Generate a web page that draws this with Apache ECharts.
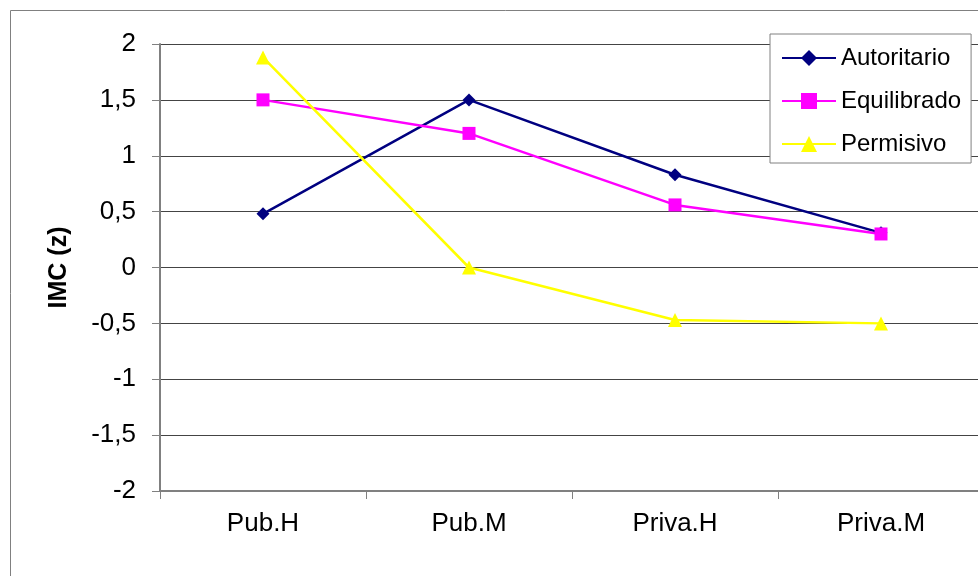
<!DOCTYPE html>
<html lang="es">
<head>
    <meta charset="UTF-8">
    <title>IMC (z)</title>
    <style>
        html, body { margin: 0; padding: 0; overflow: hidden; background: #fff; }
    </style>
</head>
<body>
<div id="main" style="width: 1000px;height:576px;"></div>
<script src="https://cdn.jsdelivr.net/npm/echarts@6/dist/echarts.min.js"></script>
<script>
    // datos
    var categorias = ['Pub.H', 'Pub.M', 'Priva.H', 'Priva.M'];
    var autoritario = [0.48, 1.5, 0.83, 0.31];
    var equilibrado = [1.5, 1.2, 0.56, 0.3];
    var permisivo = [1.88, 0, -0.47, -0.5];

    var myChart = echarts.init(document.getElementById('main'));

    var fuente = 'Liberation Sans, Arial, sans-serif';

    var option = {
        animation: false,
        // marco exterior
        graphic: [{
            type: 'rect',
            shape: { x: 10.5, y: 10.5, width: 1100, height: 700 },
            style: { fill: 'none', stroke: '#808080', lineWidth: 1 },
            z: -1
        }],
        grid: { left: 160, top: 44, width: 824, height: 447 },
        legend: {
            orient: 'vertical',
            left: 770,
            top: 34,
            padding: [12, 10, 7, 11],
            itemWidth: 54,
            itemHeight: 20,
            itemGap: 19,
            backgroundColor: '#fff',
            borderColor: '#808080',
            borderWidth: 1,
            textStyle: { fontFamily: fuente, fontSize: 24, lineHeight: 24, color: '#000', padding: [0, 0, 0, 0] },
            data: ['Autoritario', 'Equilibrado', 'Permisivo']
        },
        xAxis: {
            type: 'category',
            data: categorias,
            boundaryGap: true,
            axisLine: { onZero: false, lineStyle: { color: '#808080', width: 2 } },
            axisTick: { show: true, length: 8, lineStyle: { color: '#808080' } },
            axisLabel: { fontFamily: fuente, fontSize: 26, color: '#000', margin: 20 }
        },
        yAxis: {
            type: 'value',
            min: -2,
            max: 2,
            interval: 0.5,
            name: 'IMC (z)',
            nameLocation: 'middle',
            nameGap: 88,
            nameTextStyle: { fontFamily: fuente, fontSize: 25, fontWeight: 'bold', color: '#000' },
            axisLine: { show: true, lineStyle: { color: '#808080', width: 2 } },
            axisTick: { show: true, length: 8, lineStyle: { color: '#808080' } },
            axisLabel: {
                fontFamily: fuente, fontSize: 26, color: '#000', margin: 24,
                formatter: function (v) { return String(v).replace('.', ','); }
            },
            splitLine: { show: true, lineStyle: { color: '#444', width: 1 } }
        },
        series: [
            {
                name: 'Autoritario',
                type: 'line',
                data: autoritario,
                symbol: 'diamond',
                symbolSize: 13,
                lineStyle: { color: '#000080', width: 2.5 },
                itemStyle: { color: '#000080' }
            },
            {
                name: 'Equilibrado',
                type: 'line',
                data: equilibrado,
                symbol: 'rect',
                symbolSize: 13,
                lineStyle: { color: '#ff00ff', width: 2.5 },
                itemStyle: { color: '#ff00ff' }
            },
            {
                name: 'Permisivo',
                type: 'line',
                data: permisivo,
                symbol: 'triangle',
                symbolSize: 14,
                lineStyle: { color: '#ffff00', width: 2.5 },
                itemStyle: { color: '#ffff00' }
            }
        ]
    };

    myChart.setOption(option);
</script>
</body>
</html>
